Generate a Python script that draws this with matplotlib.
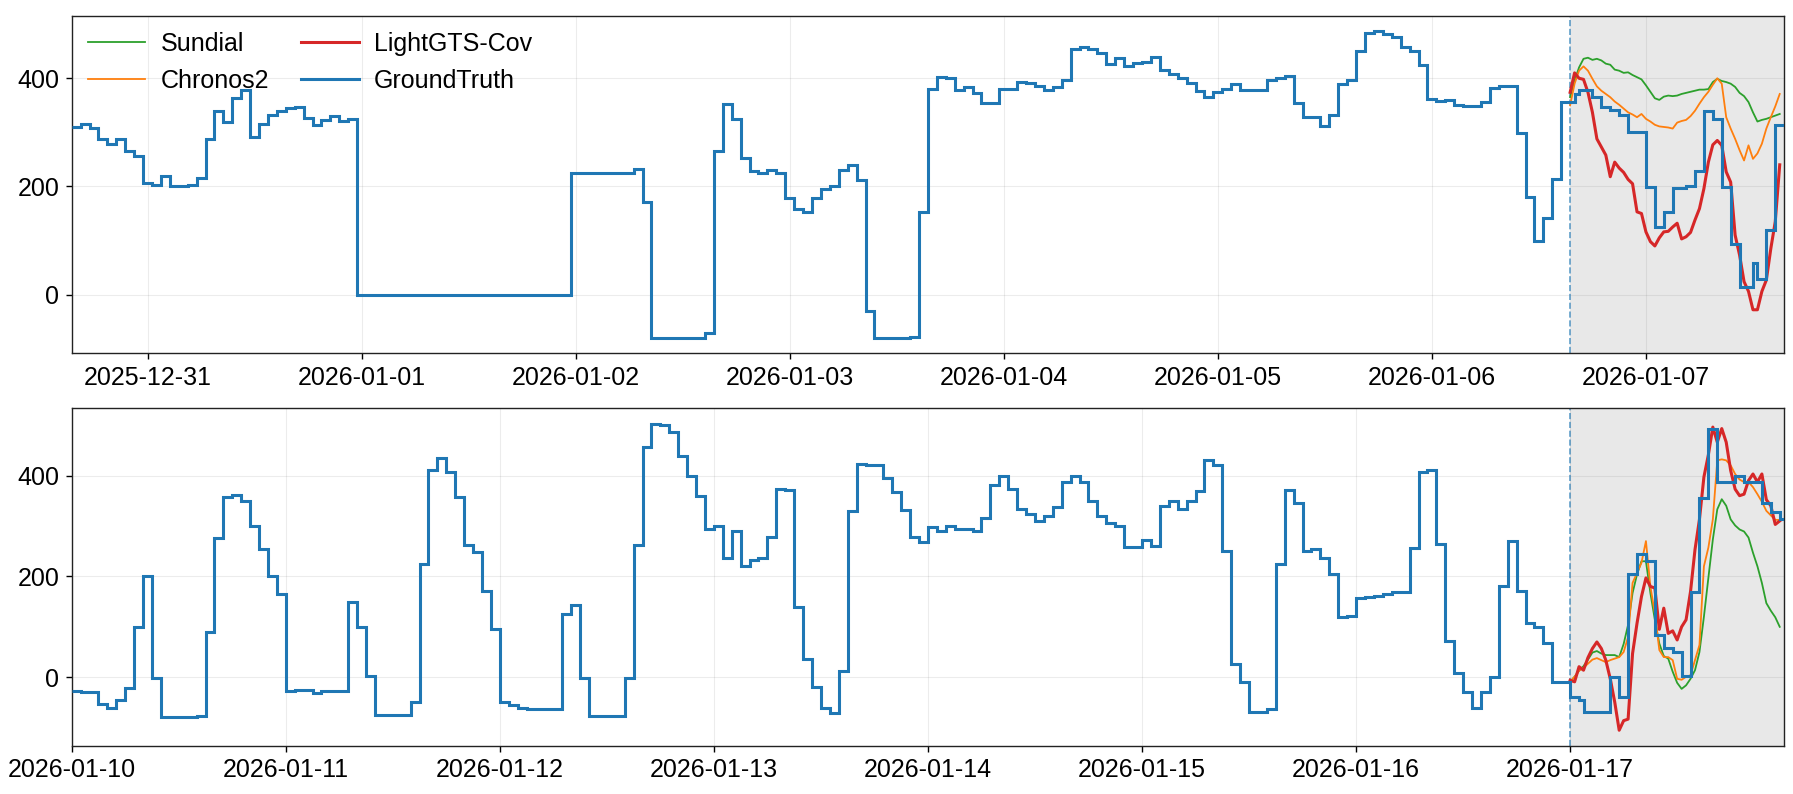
import numpy as np
import pandas as pd
import matplotlib
matplotlib.use('Agg')
import matplotlib.pyplot as plt
import matplotlib.dates as mdates
import matplotlib.lines as mlines
from matplotlib.ticker import MultipleLocator

plt.rcParams['font.family'] = ['Liberation Sans', 'DejaVu Sans']
plt.rcParams['font.size'] = 18

C_SUN = '#2ca02c'
C_CHR = '#ff7f0e'
C_LGT = '#d62728'
C_GT = '#1f77b4'

# ---- window 1 (top) ----
w1_start = '2025-12-30 15:30'   # hourly ground truth history
w1_fc = '2026-01-06 15:30'      # forecast start, 30 min steps

w1_gt_hist = [
    310, 316, 308, 287, 279, 288, 265, 256, 206, 203, 219, 200, 200, 203, 215, 287,
    340, 319, 364, 379, 291, 316, 332, 339, 345, 347, 326, 314, 323, 331, 321, 324,
    0, 0, 0, 0, 0, 0, 0, 0, 0, 0, 0, 0, 0, 0, 0, 0, 0, 0, 0, 0, 0, 0, 0, 0,
    225, 225, 225, 225, 225, 225, 225, 233, 171, -80, -80, -80, -80, -80, -80, -71,
    265, 353, 325, 252, 229, 224, 230, 225, 178, 159, 153, 178, 196, 200, 231, 240, 211,
    -31, -80, -80, -80, -80, -79,
    152, 380, 403, 401, 378, 383, 372, 355, 355, 380, 380, 394, 392, 385, 378, 383,
    396, 455, 457, 455, 446, 426, 437, 423, 429, 431, 439, 415, 408, 401, 391, 376,
    365, 374, 380, 390, 379, 379, 379, 397, 400, 404, 355, 329, 329, 312, 332, 390,
    397, 450, 484, 487, 482, 477, 458, 450, 425, 361, 358, 359, 350, 349, 349, 356,
    382, 386, 385, 299, 181, 100, 141, 214, 357,
]
w1_gt_fut = [
    357, 371, 379, 379, 379, 365, 365, 347, 347, 342, 342, 333, 333, 300, 300, 300,
    300, 199, 199, 125, 125, 153, 153, 197, 197, 197, 201, 201, 228, 228, 339, 339,
    325, 325, 199, 199, 93, 93, 15, 15, 15, 58, 29, 29, 119, 119, 314, 314,
]
w1_sundial = [
    365, 396, 420, 436, 438, 434, 436, 433, 427, 425, 416, 414, 410, 411, 406, 402,
    398, 387, 375, 363, 360, 366, 368, 367, 368, 371, 373, 375, 377, 379, 379, 380,
    393, 399, 395, 393, 390, 384, 373, 367, 356, 337, 320, 323, 325, 328, 331, 334,
]
w1_chronos = [
    350, 390, 414, 422, 414, 399, 385, 377, 371, 365, 357, 351, 344, 337, 333, 328,
    334, 325, 320, 314, 311, 310, 309, 307, 318, 321, 323, 330, 340, 353, 365, 375,
    388, 400, 390, 328, 307, 288, 267, 248, 276, 251, 261, 279, 307, 328, 348, 371,
]
w1_lightgts = [
    374, 410, 400, 398, 374, 337, 288, 273, 258, 218, 245, 234, 226, 213, 205, 153,
    150, 116, 98, 90, 105, 116, 117, 125, 132, 103, 107, 115, 138, 159, 196, 245,
    277, 285, 276, 227, 208, 110, 73, 24, 6, -28, -28, 6, 27, 85, 135, 240,
]

# ---- window 2 (bottom) ----
w2_start = '2026-01-10 00:00'
w2_fc = '2026-01-17 00:00'

w2_gt_hist = [
    -27, -29, -29, -53, -61, -45, -21, 100, 200, -1, -79, -79, -79, -79, -77, 90,
    277, 357, 361, 350, 300, 254, 200, 166,
    -27, -25, -25, -31, -27, -27, -27, 149, 100, 3, -75, -75, -75, -75, -49, 225,
    410, 434, 407, 357, 262, 249, 171, 96,
    -49, -54, -61, -62, -62, -62, -62, 126, 144, -1, -76, -76, -76, -76, -1, 262,
    457, 503, 500, 487, 439, 400, 360, 294,
    299, 236, 290, 221, 232, 236, 279, 374, 371, 140, 36, -19, -60, -70, 13, 329,
    422, 420, 420, 395, 367, 332, 279, 269,
    297, 290, 300, 294, 294, 289, 315, 381, 400, 373, 334, 324, 310, 320, 337, 387,
    400, 387, 349, 319, 305, 300, 258, 258,
    272, 261, 340, 350, 334, 350, 370, 430, 421, 250, 26, -9, -69, -69, -62, 224,
    372, 345, 251, 254, 236, 204, 119, 122,
    157, 159, 162, 165, 169, 169, 256, 407, 411, 264, 71, 9, -29, -61, -29, 1,
    181, 270, 172, 108, 99, 67, -9, -9,
]
w2_gt_fut = [
    -39, -39, -45, -69, -69, -69, -69, -69, -69, 0, 0, -39, -39, 204, 204, 245,
    245, 230, 230, 84, 84, 59, 59, 50, 50, 2, 2, 170, 170, 355, 355, 493,
    493, 387, 387, 387, 387, 400, 400, 387, 387, 387, 387, 345, 345, 328, 328, 313,
]
w2_sundial = [
    -9, 1, 13, 22, 35, 49, 52, 47, 44, 44, 44, 40, 66, 104, 167, 204,
    230, 230, 167, 114, 67, 42, 37, 11, -11, -23, -16, -3, 14, 50, 120, 197,
    273, 333, 353, 340, 313, 301, 293, 289, 277, 247, 220, 187, 147, 132, 119, 100,
]
w2_chronos = [
    -9, 1, 13, 19, 27, 35, 38, 34, 30, 34, 37, 40, 50, 80, 187, 207,
    227, 270, 180, 127, 54, 40, 40, 34, -3, -5, 1, 4, 34, 64, 220, 257,
    313, 430, 432, 430, 420, 403, 392, 387, 387, 377, 363, 348, 330, 321, 312, 312,
]
w2_lightgts = [
    -6, -9, 21, 14, 39, 57, 70, 57, 34, -3, -49, -105, -86, -83, 47, 107,
    160, 197, 180, 177, 95, 137, 87, 92, 74, 100, 114, 170, 253, 313, 397, 441,
    496, 466, 493, 466, 410, 373, 360, 363, 390, 403, 387, 403, 352, 340, 303, 310,
]


def draw_window(ax, start, fc, gt_hist, gt_fut, sundial, chronos, lightgts):
    hist_edges = pd.date_range(start, periods=len(gt_hist) + 1, freq='h')
    fut_edges = pd.date_range(fc, periods=len(gt_fut) + 1, freq='30min')
    edges = mdates.date2num(hist_edges.append(fut_edges[1:]).to_pydatetime())
    gt = np.array(gt_hist + gt_fut, dtype=float)
    t = mdates.date2num(pd.date_range(fc, periods=len(sundial), freq='30min').to_pydatetime())
    # window ends just short of a full day after forecast start
    x_end = mdates.date2num((pd.Timestamp(fc) + pd.Timedelta('23h59min')).to_pydatetime())

    ax.axvspan(t[0], x_end, facecolor='lightgray', alpha=0.5, lw=0, zorder=0)
    ax.axvline(t[0], color=C_GT, ls='--', lw=1.2, alpha=0.7, zorder=1)

    ax.plot(t, sundial, color=C_SUN, lw=1.3, zorder=2)
    ax.plot(t, chronos, color=C_CHR, lw=1.3, zorder=2)
    ax.plot(t, lightgts, color=C_LGT, lw=2.2, zorder=3)
    ax.stairs(gt, edges, baseline=None, color=C_GT, lw=2.2, zorder=4)

    ax.set_xlim(edges[0], x_end)
    ax.margins(y=0.05)
    ax.xaxis.set_major_locator(mdates.DayLocator())
    ax.xaxis.set_major_formatter(mdates.DateFormatter('%Y-%m-%d'))
    ax.yaxis.set_major_locator(MultipleLocator(200))
    ax.set_axisbelow(True)
    ax.grid(True, color='gray', alpha=0.15, lw=0.8)
    ax.tick_params(length=4.5, width=1, pad=4.5, labelsize=18)
    for s in ax.spines.values():
        s.set_color('#222222')
        s.set_linewidth(1.0)


fig, (ax1, ax2) = plt.subplots(2, 1, figsize=(17.93, 7.94), dpi=100)
fig.subplots_adjust(left=0.040, right=0.995, top=0.980, bottom=0.061, hspace=0.163)

draw_window(ax1, w1_start, w1_fc, w1_gt_hist, w1_gt_fut, w1_sundial, w1_chronos, w1_lightgts)
draw_window(ax2, w2_start, w2_fc, w2_gt_hist, w2_gt_fut, w2_sundial, w2_chronos, w2_lightgts)

handles = [
    mlines.Line2D([], [], color=C_SUN, lw=1.3, label='Sundial'),
    mlines.Line2D([], [], color=C_CHR, lw=1.3, label='Chronos2'),
    mlines.Line2D([], [], color=C_LGT, lw=2.2, label='LightGTS-Cov'),
    mlines.Line2D([], [], color=C_GT, lw=2.2, label='GroundTruth'),
]
ax1.legend(handles=handles, loc='upper left', ncol=2, frameon=False, fontsize=18,
           handlelength=2.3, handletextpad=0.6, columnspacing=1.3, borderaxespad=0.25)

fig.savefig('out.png', dpi=100)
